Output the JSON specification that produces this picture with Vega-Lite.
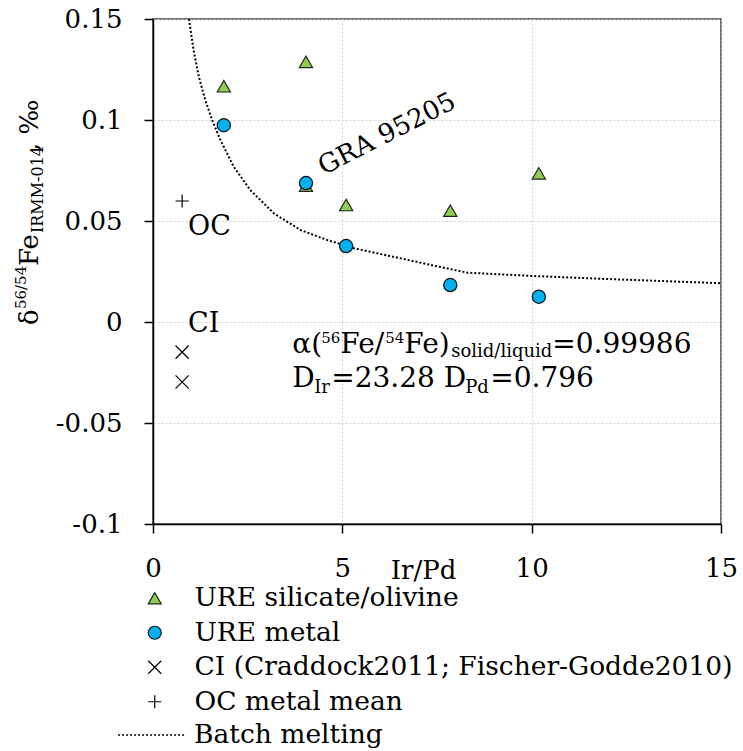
{
  "$schema": "https://vega.github.io/schema/vega-lite/v6.json",
  "width": 568,
  "height": 505,
  "autosize": {"type": "none"},
  "padding": {"left": 153, "top": 19, "right": 22, "bottom": 227},
  "background": "white",
  "config": {
    "view": {"stroke": "#404040", "strokeWidth": 1.5},
    "font": "DejaVu Serif",
    "axis": {
      "grid": true, "gridColor": "#cfcfcf", "gridDash": [2, 2], "gridWidth": 1,
      "domainColor": "black", "domainWidth": 1.5,
      "tickColor": "black", "tickSize": 9, "tickWidth": 1.5,
      "labelFont": "DejaVu Serif", "labelFontSize": 26, "labelColor": "black",
      "labelFlush": false, "labelOverlap": false,
      "titleFont": "DejaVu Serif", "titleFontSize": 26, "titleFontWeight": "normal", "titleColor": "black"
    }
  },
  "datasets": {
    "curve": [
      {"model": "Batch melting", "ir_pd": 0.95, "d56fe": 0.15},
      {"model": "Batch melting", "ir_pd": 1.07, "d56fe": 0.1347},
      {"model": "Batch melting", "ir_pd": 1.21, "d56fe": 0.1214},
      {"model": "Batch melting", "ir_pd": 1.38, "d56fe": 0.1099},
      {"model": "Batch melting", "ir_pd": 1.56, "d56fe": 0.1},
      {"model": "Batch melting", "ir_pd": 1.78, "d56fe": 0.0901},
      {"model": "Batch melting", "ir_pd": 2.13, "d56fe": 0.0769},
      {"model": "Batch melting", "ir_pd": 2.57, "d56fe": 0.0653},
      {"model": "Batch melting", "ir_pd": 3.19, "d56fe": 0.0538},
      {"model": "Batch melting", "ir_pd": 3.9, "d56fe": 0.0455},
      {"model": "Batch melting", "ir_pd": 4.6, "d56fe": 0.0406},
      {"model": "Batch melting", "ir_pd": 5.31, "d56fe": 0.0365},
      {"model": "Batch melting", "ir_pd": 6.54, "d56fe": 0.0315},
      {"model": "Batch melting", "ir_pd": 7.42, "d56fe": 0.0279},
      {"model": "Batch melting", "ir_pd": 8.31, "d56fe": 0.0244},
      {"model": "Batch melting", "ir_pd": 10.0, "d56fe": 0.0228},
      {"model": "Batch melting", "ir_pd": 11.83, "d56fe": 0.0214},
      {"model": "Batch melting", "ir_pd": 15.0, "d56fe": 0.0192}
    ],
    "samples": [
      {"series": "URE silicate/olivine", "ir_pd": 1.87, "d56fe": 0.1167},
      {"series": "URE silicate/olivine", "ir_pd": 4.04, "d56fe": 0.1288},
      {"series": "URE silicate/olivine", "ir_pd": 4.04, "d56fe": 0.0675},
      {"series": "URE silicate/olivine", "ir_pd": 5.1, "d56fe": 0.0579},
      {"series": "URE silicate/olivine", "ir_pd": 7.85, "d56fe": 0.0551},
      {"series": "URE silicate/olivine", "ir_pd": 10.19, "d56fe": 0.0736},
      {"series": "URE metal", "ir_pd": 1.87, "d56fe": 0.0974},
      {"series": "URE metal", "ir_pd": 4.04, "d56fe": 0.0688},
      {"series": "URE metal", "ir_pd": 5.1, "d56fe": 0.0376},
      {"series": "URE metal", "ir_pd": 7.85, "d56fe": 0.0183},
      {"series": "URE metal", "ir_pd": 10.19, "d56fe": 0.0125},
      {"series": "CI (Craddock2011; Fischer-Godde2010)", "ir_pd": 0.77, "d56fe": -0.0149},
      {"series": "CI (Craddock2011; Fischer-Godde2010)", "ir_pd": 0.77, "d56fe": -0.0297},
      {"series": "OC metal mean", "ir_pd": 0.77, "d56fe": 0.0599}
    ],
    "one": [{}]
  },
  "layer": [
    {
      "data": {"name": "curve"},
      "mark": {"type": "line", "color": "black", "strokeWidth": 2},
      "encoding": {
        "x": {"field": "ir_pd", "type": "quantitative", "scale": {"domain": [0, 15], "nice": false, "zero": false},
          "axis": {"title": "Ir/Pd", "values": [0, 5, 10, 15], "labelExpr": "'' + datum.value", "labelBaseline": "alphabetic", "labelPadding": 43,
            "titleX": 270, "titleY": 54, "titleAlign": "center", "titleBaseline": "alphabetic", "titleAnchor": null}},
        "y": {"field": "d56fe", "type": "quantitative", "scale": {"domain": [-0.1, 0.15], "nice": false, "zero": false},
          "axis": {"title": null, "values": [-0.1, -0.05, 0, 0.05, 0.1, 0.15], "labelExpr": "'' + datum.value", "labelPadding": 22, "labelBaseline": "middle"}},
        "strokeDash": {"field": "model", "type": "nominal", "scale": {"range": [[2, 2]]},
          "legend": {"orient": "none", "legendX": -36, "legendY": 681, "title": null, "padding": 0,
            "symbolType": "stroke", "symbolSize": 4600, "symbolStrokeWidth": 1.5, "symbolStrokeColor": "black",
            "labelFont": "DejaVu Serif", "labelFontSize": 26.5, "labelColor": "black", "labelOffset": 7, "labelLimit": 1000, "labelBaseline": "middle"}}
      }
    },
    {
      "data": {"name": "samples"},
      "mark": {"type": "point", "filled": true, "opacity": 1, "size": 175, "strokeWidth": 1.2},
      "encoding": {
        "x": {"field": "ir_pd", "type": "quantitative"},
        "y": {"field": "d56fe", "type": "quantitative"},
        "shape": {"field": "series", "type": "nominal",
          "scale": {"domain": ["URE silicate/olivine", "URE metal", "CI (Craddock2011; Fischer-Godde2010)", "OC metal mean"],
            "range": ["triangle-up", "circle", "M-1,-1L1,1M-1,1L1,-1", "M-1,0L1,0M0,-1L0,1"]},
          "legend": {"orient": "none", "legendX": -11.5, "legendY": 566, "title": null, "padding": 0,
            "symbolSize": 170, "symbolStrokeWidth": 1.2, "rowPadding": 7.5,
            "labelFont": "DejaVu Serif", "labelFontSize": 26.5, "labelColor": "black", "labelOffset": 26.5, "labelLimit": 1000, "labelBaseline": "middle"}},
        "fill": {"field": "series", "type": "nominal",
          "scale": {"domain": ["URE silicate/olivine", "URE metal", "CI (Craddock2011; Fischer-Godde2010)", "OC metal mean"],
            "range": ["#8fcf4f", "#00b0f0", "transparent", "transparent"]}},
        "stroke": {"field": "series", "type": "nominal",
          "scale": {"domain": ["URE silicate/olivine", "URE metal", "CI (Craddock2011; Fischer-Godde2010)", "OC metal mean"],
            "range": ["#222222", "#111111", "black", "black"]}}
      }
    },
    {"data": {"name": "one"}, "mark": {"type": "text", "text": "GRA 95205", "fontSize": 26, "angle": -27, "align": "center", "baseline": "middle", "color": "black"},
      "encoding": {"x": {"datum": 6.18, "type": "quantitative"}, "y": {"datum": 0.0931, "type": "quantitative"}}},
    {"data": {"name": "one"}, "mark": {"type": "text", "text": "OC", "fontSize": 27, "align": "left", "baseline": "alphabetic", "color": "black"},
      "encoding": {"x": {"datum": 0.926, "type": "quantitative"}, "y": {"datum": 0.0431, "type": "quantitative"}}},
    {"data": {"name": "one"}, "mark": {"type": "text", "text": "CI", "fontSize": 27, "align": "left", "baseline": "alphabetic", "color": "black"},
      "encoding": {"x": {"datum": 0.926, "type": "quantitative"}, "y": {"datum": -0.0048, "type": "quantitative"}}},

    {"data": {"name": "one"}, "mark": {"type": "text", "text": "α(", "fontSize": 28, "dx": 0, "align": "left", "baseline": "alphabetic", "color": "black"},
      "encoding": {"x": {"datum": 3.677, "type": "quantitative"}, "y": {"datum": -0.0155, "type": "quantitative"}}},
    {"data": {"name": "one"}, "mark": {"type": "text", "text": "56", "fontSize": 15, "dx": 29, "dy": -10, "align": "left", "baseline": "alphabetic", "color": "black"},
      "encoding": {"x": {"datum": 3.677, "type": "quantitative"}, "y": {"datum": -0.0155, "type": "quantitative"}}},
    {"data": {"name": "one"}, "mark": {"type": "text", "text": "Fe/", "fontSize": 28, "dx": 48, "align": "left", "baseline": "alphabetic", "color": "black"},
      "encoding": {"x": {"datum": 3.677, "type": "quantitative"}, "y": {"datum": -0.0155, "type": "quantitative"}}},
    {"data": {"name": "one"}, "mark": {"type": "text", "text": "54", "fontSize": 15, "dx": 93, "dy": -10, "align": "left", "baseline": "alphabetic", "color": "black"},
      "encoding": {"x": {"datum": 3.677, "type": "quantitative"}, "y": {"datum": -0.0155, "type": "quantitative"}}},
    {"data": {"name": "one"}, "mark": {"type": "text", "text": "Fe)", "fontSize": 28, "dx": 112, "align": "left", "baseline": "alphabetic", "color": "black"},
      "encoding": {"x": {"datum": 3.677, "type": "quantitative"}, "y": {"datum": -0.0155, "type": "quantitative"}}},
    {"data": {"name": "one"}, "mark": {"type": "text", "text": "solid/liquid", "fontSize": 18, "dx": 159, "dy": 4, "align": "left", "baseline": "alphabetic", "color": "black"},
      "encoding": {"x": {"datum": 3.677, "type": "quantitative"}, "y": {"datum": -0.0155, "type": "quantitative"}}},
    {"data": {"name": "one"}, "mark": {"type": "text", "text": "=0.99986", "fontSize": 28, "dx": 260, "align": "left", "baseline": "alphabetic", "color": "black"},
      "encoding": {"x": {"datum": 3.677, "type": "quantitative"}, "y": {"datum": -0.0155, "type": "quantitative"}}},

    {"data": {"name": "one"}, "mark": {"type": "text", "text": "D", "fontSize": 28, "dx": 0, "align": "left", "baseline": "alphabetic", "color": "black"},
      "encoding": {"x": {"datum": 3.677, "type": "quantitative"}, "y": {"datum": -0.032, "type": "quantitative"}}},
    {"data": {"name": "one"}, "mark": {"type": "text", "text": "Ir", "fontSize": 18, "dx": 22, "dy": 6, "align": "left", "baseline": "alphabetic", "color": "black"},
      "encoding": {"x": {"datum": 3.677, "type": "quantitative"}, "y": {"datum": -0.032, "type": "quantitative"}}},
    {"data": {"name": "one"}, "mark": {"type": "text", "text": "=23.28 D", "fontSize": 28, "dx": 39, "align": "left", "baseline": "alphabetic", "color": "black"},
      "encoding": {"x": {"datum": 3.677, "type": "quantitative"}, "y": {"datum": -0.032, "type": "quantitative"}}},
    {"data": {"name": "one"}, "mark": {"type": "text", "text": "Pd", "fontSize": 18, "dx": 173, "dy": 6, "align": "left", "baseline": "alphabetic", "color": "black"},
      "encoding": {"x": {"datum": 3.677, "type": "quantitative"}, "y": {"datum": -0.032, "type": "quantitative"}}},
    {"data": {"name": "one"}, "mark": {"type": "text", "text": "=0.796", "fontSize": 28, "dx": 198, "align": "left", "baseline": "alphabetic", "color": "black"},
      "encoding": {"x": {"datum": 3.677, "type": "quantitative"}, "y": {"datum": -0.032, "type": "quantitative"}}},

    {"data": {"name": "one"}, "mark": {"type": "text", "text": "δ", "fontSize": 26, "angle": 270, "dx": 0, "align": "left", "baseline": "alphabetic", "color": "black"},
      "encoding": {"x": {"datum": -3.026, "type": "quantitative"}, "y": {"datum": -0.0015, "type": "quantitative"}}},
    {"data": {"name": "one"}, "mark": {"type": "text", "text": "56/54", "fontSize": 15, "angle": 270, "dx": 16, "dy": -12, "align": "left", "baseline": "alphabetic", "color": "black"},
      "encoding": {"x": {"datum": -3.026, "type": "quantitative"}, "y": {"datum": -0.0015, "type": "quantitative"}}},
    {"data": {"name": "one"}, "mark": {"type": "text", "text": "Fe", "fontSize": 26, "angle": 270, "dx": 59, "align": "left", "baseline": "alphabetic", "color": "black"},
      "encoding": {"x": {"datum": -3.026, "type": "quantitative"}, "y": {"datum": -0.0015, "type": "quantitative"}}},
    {"data": {"name": "one"}, "mark": {"type": "text", "text": "IRMM-014", "fontSize": 16, "angle": 270, "dx": 92, "dy": 5, "align": "left", "baseline": "alphabetic", "color": "black"},
      "encoding": {"x": {"datum": -3.026, "type": "quantitative"}, "y": {"datum": -0.0015, "type": "quantitative"}}},
    {"data": {"name": "one"}, "mark": {"type": "text", "text": ", ‰", "fontSize": 26, "angle": 270, "dx": 174, "align": "left", "baseline": "alphabetic", "color": "black"},
      "encoding": {"x": {"datum": -3.026, "type": "quantitative"}, "y": {"datum": -0.0015, "type": "quantitative"}}}
  ]
}
